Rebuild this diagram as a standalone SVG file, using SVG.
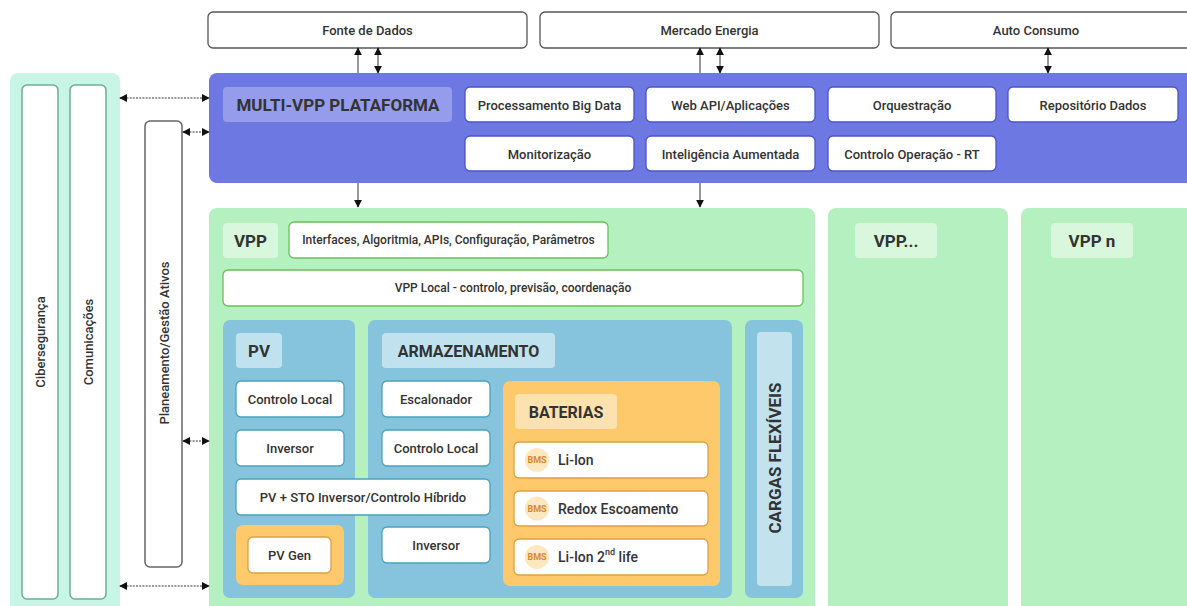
<svg xmlns="http://www.w3.org/2000/svg" width="1187" height="606" viewBox="0 0 1187 606">
<defs>
<marker id="ah" viewBox="0 0 10 10" refX="9" refY="5" markerWidth="8" markerHeight="8" orient="auto-start-reverse" markerUnits="userSpaceOnUse"><path d="M0,0 L10,5 L0,10 z" fill="#111"/></marker>
<style>
text{font-family:Roboto,"Liberation Sans",sans-serif;fill:#333;text-anchor:middle;dominant-baseline:central}
.m{font-size:13px;font-weight:500}
.h{font-size:17px;font-weight:700}
.s{font-size:12px;font-weight:500}
.bms{font-size:9px;font-weight:700;fill:#d9892a}
.it{font-size:14px;font-weight:500;text-anchor:start}
.top{fill:#fff;stroke:#555;stroke-width:1.3}
.pb{fill:#fff;stroke:#4a55c8;stroke-width:1.3}
.gb{fill:#fff;stroke:#6cbf5a;stroke-width:1.3}
.bb{fill:#fff;stroke:#4aa3bd;stroke-width:1.3}
.ob{fill:#fff;stroke:#e0a040;stroke-width:1.3}
.lc{fill:#fff;stroke:#6aae9a;stroke-width:1.5}
.ln{stroke:#333;stroke-width:1;fill:none;marker-start:url(#ah);marker-end:url(#ah)}
.dt{stroke-dasharray:2 1.2}
</style>
</defs>

<g id="left-panel">
<rect x="10" y="73" width="110" height="545" rx="8" fill="#c8f5e6"/>
</g>
<g id="ciberseguranca">
<rect class="lc" x="22" y="85" width="36" height="514" rx="5"/>
<text class="m" transform="translate(40,342) rotate(-90)">Cibersegurança</text>
</g>
<g id="comunicacoes">
<rect class="lc" x="70" y="85" width="36" height="514" rx="5"/>
<text class="m" transform="translate(88,342) rotate(-90)">Comunicações</text>
</g>
<g id="planeamento">
<rect x="145" y="121" width="37" height="446" rx="5" fill="#fff" stroke="#666" stroke-width="1.5"/>
<text class="m" transform="translate(164,343) rotate(-90)">Planeamento/Gestão Ativos</text>
</g>

<g id="fonte-dados"><rect class="top" x="208" y="12" width="319" height="36" rx="5"/><text class="m" x="367.5" y="30">Fonte de Dados</text></g>
<g id="mercado-energia"><rect class="top" x="540" y="12" width="339" height="36" rx="5"/><text class="m" x="709.5" y="30">Mercado Energia</text></g>
<g id="auto-consumo"><rect class="top" x="891" y="12" width="300" height="36" rx="5"/><text class="m" x="1036" y="30">Auto Consumo</text></g>

<g id="connectors-back">
<line class="ln" x1="358" y1="48" x2="358" y2="207"/>
<line class="ln" x1="700" y1="48" x2="700" y2="207"/>
</g>

<g id="multi-vpp">
<rect x="209" y="73" width="990" height="110" rx="8" fill="#6e78e3"/>
<rect x="223" y="87" width="229" height="35" rx="4" fill="#949ceb"/>
<text class="h" x="338" y="105">MULTI-VPP PLATAFORMA</text>
</g>
<g id="processamento"><rect class="pb" x="465" y="87" width="169" height="35" rx="5"/><text class="m" x="549.5" y="105">Processamento Big Data</text></g>
<g id="webapi"><rect class="pb" x="646" y="87" width="169" height="35" rx="5"/><text class="m" x="730.5" y="105">Web API/Aplicações</text></g>
<g id="orquestracao"><rect class="pb" x="828" y="87" width="168" height="35" rx="5"/><text class="m" x="912" y="105">Orquestração</text></g>
<g id="repositorio"><rect class="pb" x="1008" y="87" width="170" height="35" rx="5"/><text class="m" x="1093" y="105">Repositório Dados</text></g>
<g id="monitorizacao"><rect class="pb" x="465" y="136" width="169" height="35" rx="5"/><text class="m" x="549.5" y="154">Monitorização</text></g>
<g id="inteligencia"><rect class="pb" x="646" y="136" width="169" height="35" rx="5"/><text class="m" x="730.5" y="154">Inteligência Aumentada</text></g>
<g id="controlo-rt"><rect class="pb" x="828" y="136" width="168" height="35" rx="5"/><text class="m" x="912" y="154">Controlo Operação - RT</text></g>

<g id="vpp">
<rect x="209" y="208" width="606" height="410" rx="8" fill="#b5f0c0"/>
<rect x="223" y="223" width="55" height="35" rx="4" fill="#d9f7dd"/>
<text class="h" x="250.5" y="241">VPP</text>
</g>
<g id="interfaces"><rect class="gb" x="289" y="222" width="319" height="36" rx="5"/><text class="s" x="448.5" y="240">Interfaces, Algoritmia, APIs, Configuração, Parâmetros</text></g>
<g id="vpp-local"><rect class="gb" x="223" y="270" width="580" height="36" rx="5"/><text class="s" x="513" y="288">VPP Local - controlo, previsão, coordenação</text></g>

<g id="vpp-dots">
<rect x="828" y="208" width="180" height="410" rx="8" fill="#b5f0c0"/>
<rect x="855" y="223" width="82" height="35" rx="4" fill="#d9f7dd"/>
<text class="h" x="896" y="241">VPP...</text>
</g>
<g id="vpp-n">
<rect x="1021" y="208" width="180" height="410" rx="8" fill="#b5f0c0"/>
<rect x="1051" y="223" width="82" height="35" rx="4" fill="#d9f7dd"/>
<text class="h" x="1092" y="241">VPP n</text>
</g>

<g id="pv">
<rect x="223" y="320" width="132" height="278" rx="7" fill="#85c4dc"/>
<rect x="236" y="333" width="46" height="35" rx="4" fill="#c0e2ee"/>
<text class="h" x="259" y="351">PV</text>
</g>
<g id="pv-controlo"><rect class="bb" x="236" y="381" width="108" height="36" rx="5"/><text class="m" x="290" y="399">Controlo Local</text></g>
<g id="pv-inversor"><rect class="bb" x="236" y="430" width="108" height="36" rx="5"/><text class="m" x="290" y="448">Inversor</text></g>

<g id="armazenamento">
<rect x="368" y="320" width="364" height="278" rx="7" fill="#85c4dc"/>
<rect x="382" y="333" width="173" height="35" rx="4" fill="#c0e2ee"/>
<text class="h" x="468.5" y="351" style="font-size:16px">ARMAZENAMENTO</text>
</g>
<g id="pv-sto"><rect class="bb" x="236" y="479" width="254" height="36" rx="5"/><text class="m" x="363" y="497">PV + STO Inversor/Controlo Híbrido</text></g>
<g id="pv-gen">
<rect x="236" y="525" width="108" height="60" rx="7" fill="#fdc96a"/>
<rect class="ob" x="248" y="537" width="83" height="36" rx="5"/>
<text class="m" x="289.5" y="555">PV Gen</text>
</g>
<g id="escalonador"><rect class="bb" x="382" y="381" width="108" height="36" rx="5"/><text class="m" x="436" y="399">Escalonador</text></g>
<g id="arm-controlo"><rect class="bb" x="382" y="430" width="108" height="36" rx="5"/><text class="m" x="436" y="448">Controlo Local</text></g>
<g id="arm-inversor"><rect class="bb" x="382" y="527" width="108" height="36" rx="5"/><text class="m" x="436" y="545">Inversor</text></g>

<g id="baterias">
<rect x="503" y="381" width="217" height="205" rx="7" fill="#fdc96a"/>
<rect x="515" y="394" width="102" height="35" rx="4" fill="#fde2b0"/>
<text class="h" x="566" y="412" style="font-size:16px">BATERIAS</text>
</g>
<g id="li-ion">
<rect class="ob" x="514" y="442" width="194" height="36" rx="5"/>
<circle cx="537" cy="460" r="12" fill="#fde7c0"/>
<text class="bms" x="537" y="460">BMS</text>
<text class="it" x="558" y="460">Li-Ion</text>
</g>
<g id="redox">
<rect class="ob" x="514" y="491" width="194" height="35" rx="5"/>
<circle cx="537" cy="508.5" r="12" fill="#fde7c0"/>
<text class="bms" x="537" y="508.5">BMS</text>
<text class="it" x="558" y="508.5">Redox Escoamento</text>
</g>
<g id="li-ion-2nd">
<rect class="ob" x="514" y="539" width="194" height="36" rx="5"/>
<circle cx="537" cy="557" r="12" fill="#fde7c0"/>
<text class="bms" x="537" y="557">BMS</text>
<text class="it" x="558" y="557">Li-Ion 2<tspan style="font-size:9px" dy="-5">nd</tspan><tspan dy="5"> life</tspan></text>
</g>

<g id="cargas-flexiveis">
<rect x="745" y="320" width="58" height="278" rx="7" fill="#85c4dc"/>
<rect x="757" y="332" width="35" height="254" rx="4" fill="#c2e2ee"/>
<text class="h" transform="translate(774.5,458) rotate(-90)">CARGAS FLEXÍVEIS</text>
</g>

<g id="connectors">
<line class="ln" x1="378" y1="48" x2="378" y2="73"/>
<line class="ln" x1="720" y1="48" x2="720" y2="73"/>
<line class="ln" x1="1048" y1="48" x2="1048" y2="73"/>
<line class="ln dt" x1="120" y1="98" x2="209" y2="98"/>
<line class="ln dt" x1="183" y1="132" x2="209" y2="132"/>
<line class="ln dt" x1="183" y1="441" x2="209" y2="441"/>
<line class="ln dt" x1="120" y1="586" x2="209" y2="586"/>
</g>
</svg>
